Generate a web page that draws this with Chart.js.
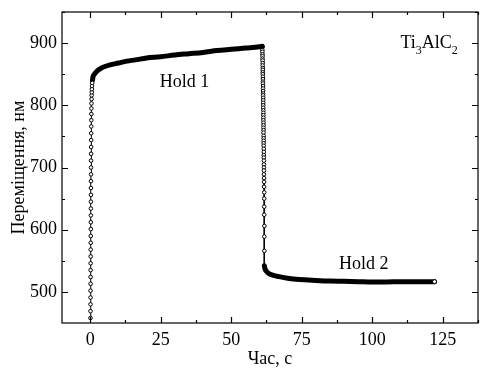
<!DOCTYPE html>
<html>
<head>
<meta charset="utf-8">
<script src="https://cdn.jsdelivr.net/npm/chart.js@4.4.1/dist/chart.umd.min.js"></script>
<style>
  html, body { margin: 0; padding: 0; background: #fff; }
  #wrap { width: 483px; height: 370px; }
</style>
</head>
<body>
<div id="wrap"><canvas id="chart"></canvas></div>
<script>
// навантаження (0 -> ~840 нм)
const loadTime = [0.10,0.10,0.11,0.12,0.12,0.13,0.14,0.15,0.16,0.17,0.18,0.19,0.20,0.21,0.22,0.23,0.24,0.25,0.26,0.27,0.28,0.29,0.30,0.31,0.32,0.33,0.34,0.35,0.37,0.39,0.41,0.43,0.46,0.49,0.52,0.56,0.60,0.65,0.72];
const loadDisp = [458,469,480,491,502,513,524,535,546,557,568,579,590,601,612,623,634,645,656,667,678,689,700,711,722,733,744,755,766,776,786,795,803,810,816,821,826,831,836];

// витримка 1
const hold1Time = [0.8,1,1.5,2,3,4,5,7,10,13,16,20,25,30,35,40,45,50,55,60,61];
const hold1Disp = [840,846,850,853,857,860,862,865,868,871,873,876,878,881,883,885,888,890,892,894,895];

// розвантаження
const unloadTime = [61.0,61.0,61.05,61.05,61.1,61.1,61.1,61.15,61.15,61.15,
  61.2,61.2,61.2,61.2,61.25,61.25,61.25,61.25,61.3,61.3,
  61.3,61.3,61.3,61.35,61.35,61.35,61.35,61.35,61.4,61.4,
  61.4,61.4,61.4,61.45,61.45,61.45,61.45,61.45,61.5,61.5,
  61.5,61.5,61.5,61.55,61.55,61.55,61.55,61.6,61.6,61.6,
  61.6,61.6,61.65,61.65,61.65,61.7,61.7,61.7,61.7,61.75,
  61.75,61.75,61.75];
const unloadDisp = [895,893,889,886,882,879,875,872,868,864,
  860,857,853,850,846,842,838,835,831,827,
  823,819,816,812,808,804,800,796,792,788,
  784,780,776,772,768,764,760,756,751,747,
  743,739,735,730,725,720,716,711,705,700,
  695,689,683,677,669,660,650,637,624,606,
  589,566,542];

// витримка 2
const hold2Time = [61.75,62.0,62.5,63,64,65,67,70,73,76,80,85,90,95,100,105,110,115,120,122.1];
const hold2Disp = [542,537,533,530.5,528,526.5,524.5,522,520.5,519.5,518.5,517.5,517,516.5,516,516,516.5,516.5,516.5,516.5];

const xTicks = [0,25,50,75,100,125];
const xMinor = [12.5,37.5,62.5,87.5,112.5,137.5];
const yTicks = [500,600,700,800,900];
const yMinor = [550,650,750,850,950];

const FONT = "'Liberation Serif', 'Times New Roman', serif";
const pts = (xs, ys) => xs.map((t, i) => ({x: t, y: ys[i]}));

const markerSet = (xs, ys, hideLast) => ({
    data: pts(xs, ys),
    borderColor: '#000',
    borderWidth: 1,
    pointRadius: ctx => (hideLast && ctx.dataIndex === ys.length - 1) ? 0 : 1.8,
    pointBorderWidth: 1,
    pointBorderColor: '#000',
    pointBackgroundColor: '#fff',
    tension: 0
});

const bandSet = (xs, ys, lastMarker) => ({
    data: pts(xs, ys),
    borderColor: '#000',
    borderWidth: 5,
    borderCapStyle: 'round',
    cubicInterpolationMode: 'monotone',
    pointRadius: ctx => (lastMarker && ctx.dataIndex === ys.length - 1) ? 2 : 0,
    pointBorderWidth: 1,
    pointBorderColor: '#000',
    pointBackgroundColor: '#fff'
});

// рамка та внутрішні риски
const frame = {
    id: 'frame',
    afterDraw(chart) {
        const {ctx, chartArea: a, scales: {x, y}} = chart;
        ctx.save();
        ctx.strokeStyle = '#000';
        ctx.lineWidth = 1.2;
        ctx.strokeRect(a.left, a.top, a.right - a.left, a.bottom - a.top);
        ctx.beginPath();
        const tx = (v, len) => {
            const p = Math.round(x.getPixelForValue(v)) + 0.5;
            ctx.moveTo(p, a.bottom); ctx.lineTo(p, a.bottom - len);
            ctx.moveTo(p, a.top); ctx.lineTo(p, a.top + len);
        };
        const ty = (v, len) => {
            const p = Math.round(y.getPixelForValue(v)) + 0.5;
            ctx.moveTo(a.left, p); ctx.lineTo(a.left + len, p);
            ctx.moveTo(a.right, p); ctx.lineTo(a.right - len, p);
        };
        xTicks.forEach(v => tx(v, 6));
        xMinor.forEach(v => tx(v, 3));
        yTicks.forEach(v => ty(v, 6));
        yMinor.forEach(v => ty(v, 3));
        ctx.stroke();

        // підписи
        ctx.fillStyle = '#000';
        ctx.textBaseline = 'alphabetic';
        ctx.font = '18px ' + FONT;
        ctx.textAlign = 'center';
        ctx.fillText('Hold 1', x.getPixelForValue(33.4), y.getPixelForValue(829));
        ctx.fillText('Hold 2', x.getPixelForValue(97), y.getPixelForValue(537));
        ctx.textAlign = 'left';
        let px = x.getPixelForValue(110);
        const py = y.getPixelForValue(892);
        const parts = [['Ti', 0], ['3', 1], ['AlC', 0], ['2', 1]];
        parts.forEach(([s, sub]) => {
            ctx.font = (sub ? '12px ' : '18px ') + FONT;
            ctx.fillText(s, px, py + (sub ? 6 : 0));
            px += ctx.measureText(s).width;
        });
        ctx.restore();
    }
};

new Chart(document.getElementById('chart'), {
    type: 'line',
    data: {
        datasets: [
            markerSet(loadTime, loadDisp, false),
            bandSet(hold1Time, hold1Disp, false),
            markerSet(unloadTime, unloadDisp, true),
            bandSet(hold2Time, hold2Disp, true)
        ]
    },
    options: {
        responsive: true,
        maintainAspectRatio: false,
        animation: false,
        layout: { padding: { top: 12, right: 2, left: 0, bottom: 0 } },
        plugins: { legend: { display: false }, tooltip: { enabled: false } },
        scales: {
            x: {
                type: 'linear',
                min: -10,
                max: 137.5,
                afterFit: s => { s.height = 47; s.paddingLeft = 0; s.paddingRight = 0; },
                afterBuildTicks: s => { s.ticks = xTicks.map(v => ({value: v})); },
                grid: { display: false, drawTicks: false },
                border: { display: false },
                ticks: { color: '#000', padding: 6, maxRotation: 0, font: { family: FONT, size: 18 } },
                title: { display: true, text: 'Час, с', color: '#000', padding: { top: 0, bottom: 0 }, font: { family: FONT, size: 18 } }
            },
            y: {
                type: 'linear',
                min: 450,
                max: 950,
                afterFit: s => { s.width = 62; s.paddingTop = 0; s.paddingBottom = 0; },
                afterBuildTicks: s => { s.ticks = yTicks.map(v => ({value: v})); },
                grid: { display: false, drawTicks: false },
                border: { display: false },
                ticks: { color: '#000', padding: 5, font: { family: FONT, size: 18 } },
                title: { display: true, text: 'Переміщення, нм', color: '#000', padding: { top: 8, bottom: 0 }, font: { family: FONT, size: 18 } }
            }
        }
    },
    plugins: [frame]
});
</script>
</body>
</html>
